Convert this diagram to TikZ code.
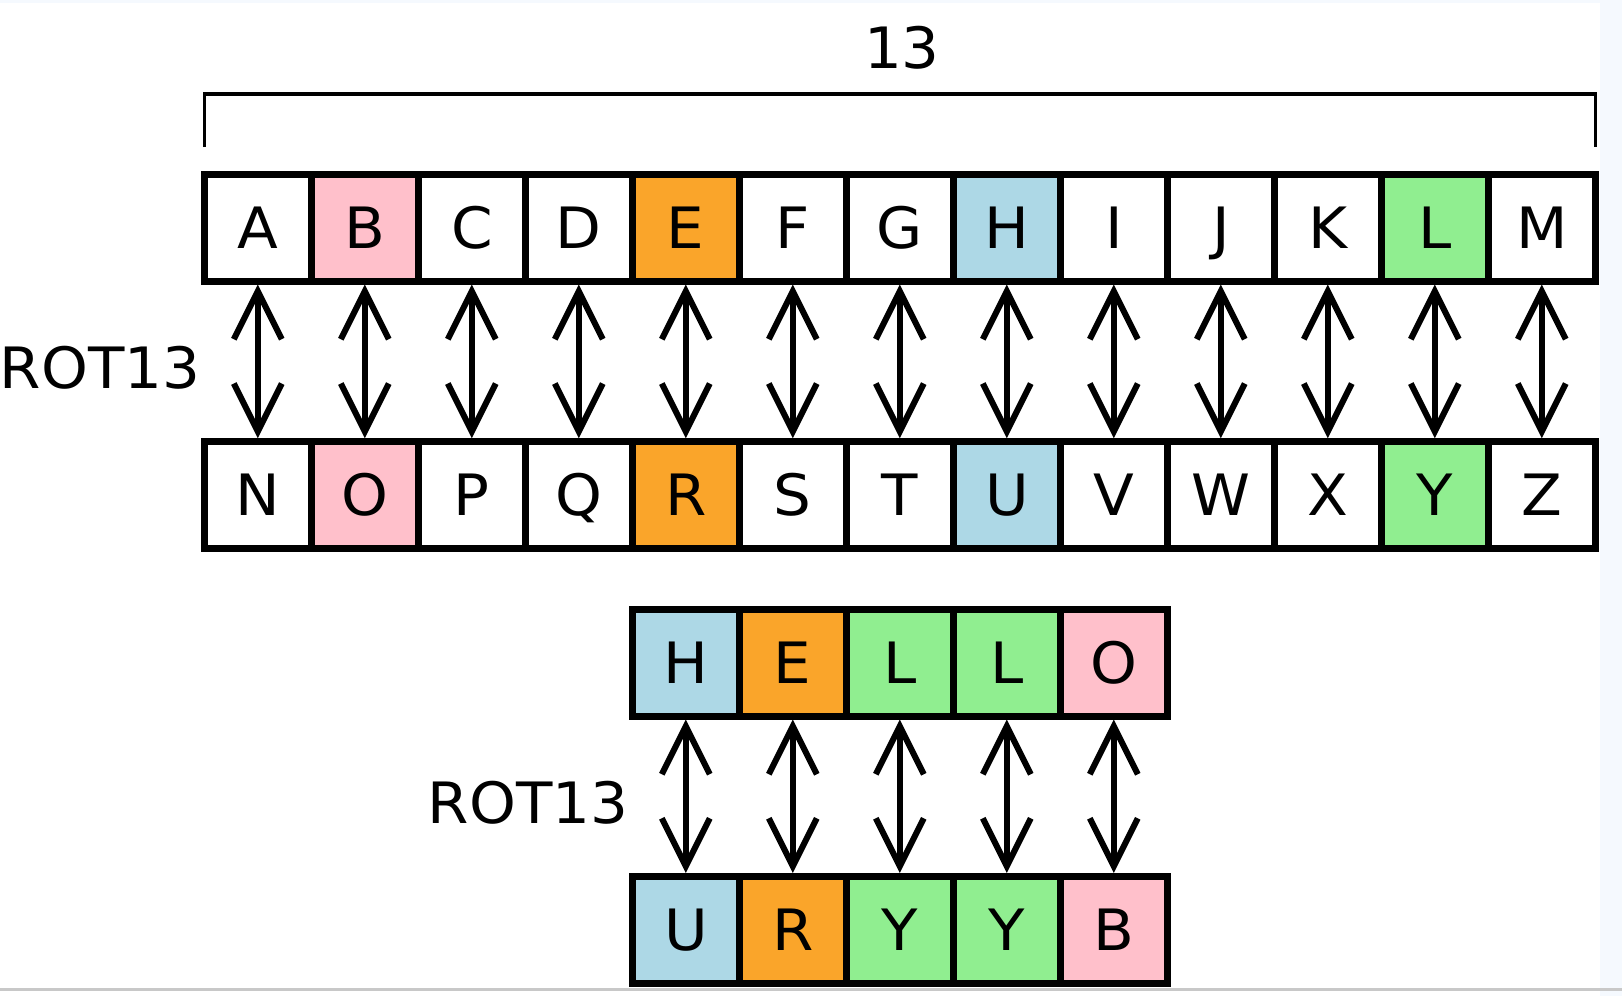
\documentclass[tikz,border=0pt]{standalone}
\usepackage{fontspec}
\setmainfont{DejaVu Sans}[FakeStretch=1.045]
\usetikzlibrary{arrows.meta}
\definecolor{pinkc}{RGB}{255,192,203}
\definecolor{orangec}{RGB}{250,165,42}
\definecolor{bluec}{RGB}{173,216,230}
\definecolor{greenc}{RGB}{144,238,144}
\definecolor{edgebg}{RGB}{245,249,254}
\definecolor{rulegray}{RGB}{200,200,200}
\begin{document}
\begin{tikzpicture}[x=0.5pt,y=-0.5pt,
  cell/.style={draw=black, line width=3.5pt, minimum width=53.5pt, minimum height=53.25pt,
    inner sep=0pt, font=\fontsize{28.5}{34}\selectfont, text height=20.8pt, text depth=0pt},
  lbl/.style={inner sep=0pt, font=\fontsize{28.5}{34}\selectfont},
  dbl/.style={line width=3pt, {Straight Barb[length=24pt,width=24pt]}-{Straight Barb[length=24pt,width=24pt]}},
  bracketline/.style={line width=1.7pt}
]
\useasboundingbox (0,0) rectangle (1622,996);
\fill[white] (0,0) rectangle (1622,996);
\fill[edgebg] (1600,0) rectangle (1622,996);
\fill[edgebg] (0,0) rectangle (1600,3);
\fill[rulegray] (0,988) rectangle (1622,991);

% alphabet rows
\foreach \t/\b/\c [count=\i from 0] in {A/N/white,B/O/pinkc,C/P/white,D/Q/white,E/R/orangec,F/S/white,G/T/white,H/U/bluec,I/V/white,J/W/white,K/X/white,L/Y/greenc,M/Z/white}{
  \node[cell, fill=\c] (t\t) at ({257.8+107*\i},227.75) {\t};
  \node[cell, fill=\c] (b\b) at ({257.8+107*\i},495) {\b};
}
\foreach \t/\b in {A/N,B/O,C/P,D/Q,E/R,F/S,G/T,H/U,I/V,J/W,K/X,L/Y,M/Z}{
  \draw[dbl] (t\t.south) -- (b\b.north);
}

% HELLO rows
\foreach \t/\b/\c [count=\i from 0] in {H/U/bluec,E/R/orangec,L/Y/greenc,L/Y/greenc,O/B/pinkc}{
  \node[cell, fill=\c] (h\i) at ({685.8+107*\i},662.75) {\t};
  \node[cell, fill=\c] (u\i) at ({685.8+107*\i},929.75) {\b};
}
\foreach \i in {0,...,4}{
  \draw[dbl] (h\i.south) -- (u\i.north);
}

% labels
\coordinate (r1) at (0,388);
\coordinate (r2) at (0,823);
\node[lbl, anchor=base east] (rotA) at (tA.west |- r1) {ROT13};
\node[lbl, anchor=base east] (rotB) at (h0.west |- r2) {ROT13};

% bracket
\coordinate (bl) at (204.3,147);
\coordinate (blt) at (204.3,94);
\coordinate (brt) at (1595.4,94);
\coordinate (br) at (1595.4,147);
\draw[bracketline] (bl) -- (blt) -- (brt) -- (br);
\node[lbl, anchor=base] (thirteen) at (902,68) {13};
\end{tikzpicture}
\end{document}
